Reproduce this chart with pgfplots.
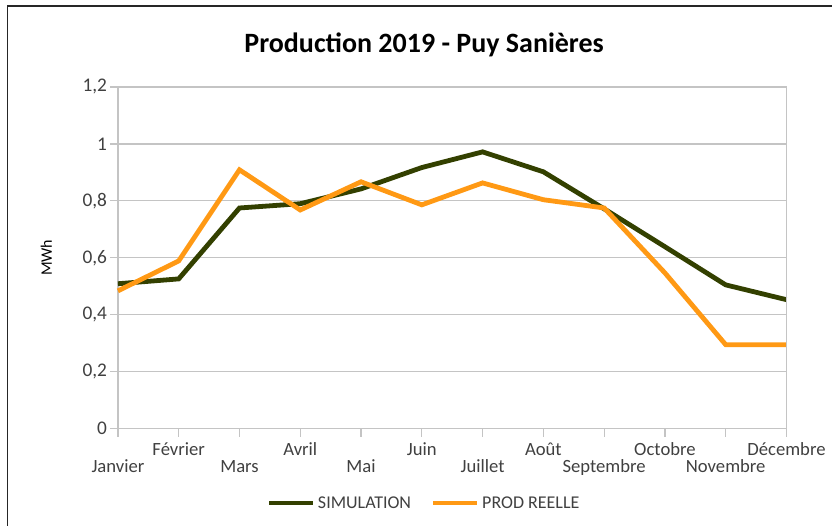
\documentclass[border=0pt]{standalone}
\usepackage{pgfplots}
\pgfplotsset{compat=1.18}
\usepackage{fontspec}
\setmainfont{Carlito}

\definecolor{simu}{HTML}{334000}
\definecolor{prod}{HTML}{FF9914}
\definecolor{txt}{HTML}{404040}
\definecolor{gridc}{HTML}{C4C4C4}

\newcommand{\hi}[1]{\vphantom{F\'e}#1}
\newcommand{\lo}[1]{\vphantom{F\'e}\\#1}

\begin{document}
\begin{tikzpicture}
\begin{axis}[
  scale only axis,
  width=501.75pt,
  height=256.5pt,
  clip=false,
  xmin=0, xmax=11,
  ymin=0, ymax=1.2,
  xtick={0,...,11},
  xticklabels={{\lo{Janvier}},{\hi{F\'evrier}},{\lo{Mars}},{\hi{Avril}},{\lo{Mai}},{\hi{Juin}},
    {\lo{Juillet}},{\hi{Ao\^ut}},{\lo{Septembre}},{\hi{Octobre}},{\lo{Novembre}},{\hi{D\'ecembre}}},
  xticklabel style={align=center, font=\fontsize{14}{12.75}\selectfont, text=txt, inner xsep=1pt, inner ysep=4.5pt},
  ytick={0,0.2,...,1.2},
  yticklabel style={font=\fontsize{14.5}{16}\selectfont, text=txt, inner sep=2pt},
  /pgf/number format/.cd, use comma, fixed, precision=1, assume math mode=true,
  /pgfplots/.cd,
  ymajorgrids,
  grid style={gridc, line width=0.9pt},
  axis line style={gridc, line width=0.9pt},
  tick style={gridc, line width=0.9pt},
  tick align=outside,
  major tick length=6pt,
  xtick pos=bottom, ytick pos=left,
  axis x line*=bottom,
  axis y line*=left,
  ylabel={MWh},
  ylabel style={font=\fontsize{12}{14}\selectfont, text=black, at={(rel axis cs:-0.107,0.5)}, anchor=center},
  title={\textbf{Production 2019 - Puy Sani\`eres}},
  title style={font=\fontsize{21}{24}\selectfont, at={(rel axis cs:0.458,1.099)}, anchor=center, text=black},
  legend style={at={(rel axis cs:0.4585,-0.218)}, anchor=center, draw=none, fill=none,
    legend columns=2, font=\fontsize{13.5}{15}\selectfont, text=txt,
    /tikz/every even column/.append style={column sep=13pt}},
  legend image code/.code={\draw[#1, line width=3.4pt] (0pt,0pt) -- (33pt,0pt);},
]
\addplot[simu, line width=3.6pt] coordinates {
  (0,0.509) (1,0.526) (2,0.775) (3,0.790) (4,0.842) (5,0.917)
  (6,0.972) (7,0.902) (8,0.772) (9,0.639) (10,0.505) (11,0.453)
};
\addlegendentry{SIMULATION}
\addplot[prod, line width=3.6pt] coordinates {
  (0,0.484) (1,0.589) (2,0.909) (3,0.768) (4,0.867) (5,0.786)
  (6,0.863) (7,0.804) (8,0.775) (9,0.547) (10,0.295) (11,0.295)
};
\addlegendentry{PROD REELLE}
\draw[gridc, line width=0.9pt] (rel axis cs:0,1) -- (rel axis cs:1,1) -- (rel axis cs:1,0);
\path (rel axis cs:-0.1764,-0.2836) rectangle (rel axis cs:1.0688,1.2544);
\draw[black!85, line width=0.8pt] (rel axis cs:-0.165,-0.2836) -- (rel axis cs:-0.165,1.2368) -- (rel axis cs:1.0688,1.2368);
\end{axis}
\end{tikzpicture}
\end{document}
